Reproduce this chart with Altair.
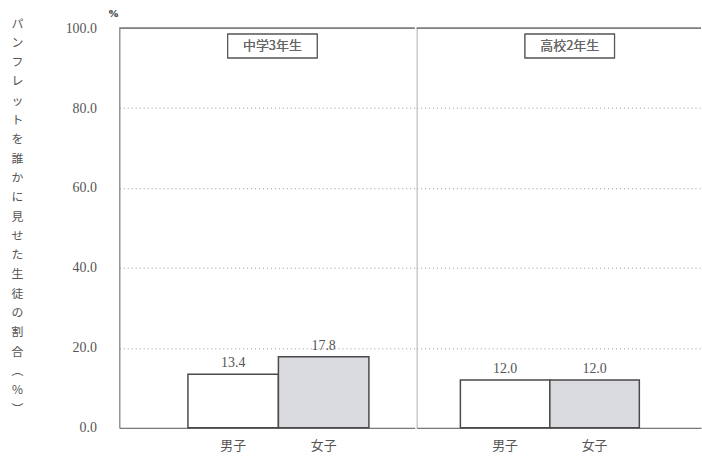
import altair as alt
import pandas as pd

# Share of students who showed the pamphlet to someone (%)
groups = ["中学3年生", "高校2年生"]
sexes = ["男子", "女子"]
values = {
    "中学3年生": [13.4, 17.8],
    "高校2年生": [12.0, 12.0],
}
y_ticks = [0, 20, 40, 60, 80, 100]
y_title = list("パンフレットを誰かに見せた生徒の割合") + ["︵", "％", "︶"]

SERIF = "Liberation Serif"
JP = "Noto Sans CJK JP"
TEXT = "#555555"
LINE = "#7a7a7a"
BAR_EDGE = "#4a4a4a"
FILLS = ["#ffffff", "#d9dbde"]

PLOT_H = 402


def panel(group, width, pad_outer, align, first):
    df = pd.DataFrame({"sex": sexes, "value": values[group]})
    x = alt.X(
        "sex:N",
        sort=sexes,
        scale=alt.Scale(paddingInner=0, paddingOuter=pad_outer, align=align),
        axis=alt.Axis(
            title=None, labelAngle=0, domain=True, domainColor=LINE,
            domainWidth=1.2, ticks=False, labelFont=JP, labelFontSize=13,
            labelColor=TEXT, labelPadding=12,
        ),
    )
    if first:
        y_axis = alt.Axis(
            values=y_ticks, format=".1f", title=y_title, titleAngle=0,
            titleX=-103, titleY=-10, titleAlign="center", titleBaseline="top",
            titleFont=JP, titleFontSize=12, titleFontWeight="normal",
            titleColor=TEXT, titleLineHeight=19.4,
            labelFont=SERIF, labelFontSize=14, labelColor=TEXT,
            labelPadding=23, ticks=False, domainColor=LINE, domainWidth=1.2,
            grid=True, gridDash=[1, 3], gridColor="#9a9a9a", gridWidth=1,
        )
    else:
        y_axis = alt.Axis(
            values=y_ticks, labels=False, title=None, ticks=False,
            domainColor="#b0b0b0", domainWidth=1,
            grid=True, gridDash=[1, 3], gridColor="#9a9a9a", gridWidth=1,
        )
    y = alt.Y("value:Q", scale=alt.Scale(domain=[0, 100], nice=False),
              axis=y_axis)

    base = alt.Chart(df)
    bars = base.mark_bar(stroke=BAR_EDGE, strokeWidth=1.5).encode(
        x=x, y=y,
        fill=alt.Fill("sex:N", scale=alt.Scale(domain=sexes, range=FILLS),
                      legend=None),
    )
    labels = base.mark_text(dy=-11, font=SERIF, fontSize=14, color=TEXT).encode(
        x=alt.X("sex:N", sort=sexes), y="value:Q",
        text=alt.Text("value:Q", format=".1f"),
    )
    top = base.mark_rule(color=LINE, strokeWidth=1.2).encode(
        y=alt.datum(100)
    )
    box = base.mark_rect(
        fill="white", stroke="#555555", strokeWidth=1.2
    ).encode(
        x=alt.value(109), x2=alt.value(199), y=alt.value(6), y2=alt.value(30)
    )
    tag = base.mark_text(
        font=JP, fontSize=13, color="#666666", baseline="middle"
    ).encode(x=alt.value(154), y=alt.value(18), text=alt.datum(group))

    layers = [top, bars, labels, box, tag]
    if first:
        pct = base.mark_text(
            font=SERIF, fontSize=11, fontWeight="bold", color=TEXT
        ).encode(x=alt.value(-6), y=alt.value(-14), text=alt.datum("%"))
        layers.append(pct)
    return alt.layer(*layers).properties(width=width, height=PLOT_H)


left = panel("中学3年生", 297, 0.632, 0.6, True)
right = panel("高校2年生", 286, 0.589, 0.415, False)

chart = alt.hconcat(left, right, spacing=0).properties(
    padding={"left": 10, "top": 7, "right": 0, "bottom": 0},
    background="white",
).configure_view(stroke=None)

chart.save("out.html", embed_options={"renderer": "svg", "actions": False})
